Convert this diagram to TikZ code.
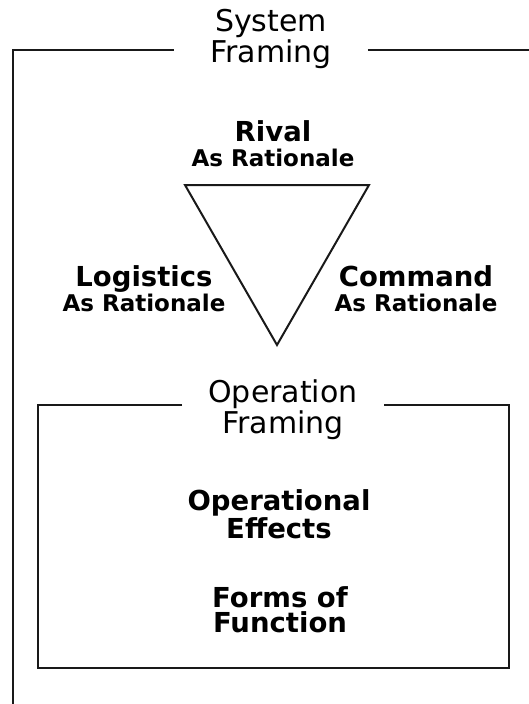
\documentclass[tikz,border=0pt]{standalone}
\usepackage{fontspec}
\setmainfont{DejaVu Sans}
\begin{document}
\begin{tikzpicture}[x=1pt,y=-1pt,
  frameline/.style={line width=2pt, draw=black!90},
  frametitle/.style={font=\fontsize{30}{24.5}\selectfont, align=center, anchor=base, inner ysep=0pt, inner xsep=36pt},
  boldlabel/.style={font=\fontsize{27.5}{25}\selectfont\bfseries, align=center, anchor=base, inner sep=0pt}]
\useasboundingbox (0,0) rectangle (529,704);
% outer frame
\coordinate (oTL) at (13,50);
\coordinate (oBL) at (13,704);
\coordinate (oTR) at (529,50);
\node[frametitle] (sys) at (271,62) {System\\Framing};
\draw[frameline] (oBL) -- (oTL) -- (sys.west |- oTL);
\draw[frameline] (sys.east |- oTR) -- (oTR);
% triangle
\coordinate (t1) at (185,185);
\coordinate (t2) at (369,185);
\coordinate (t3) at (277,345);
\draw[frameline, line join=miter] (t1) -- (t2) -- (t3) -- cycle;
\node[boldlabel] (rival) at (273,166) {Rival\\{\fontsize{23}{25}\selectfont\bfseries As Rationale}};
\node[boldlabel] (logi) at (144,311) {Logistics\\{\fontsize{23}{25}\selectfont\bfseries As Rationale}};
\node[boldlabel] (comm) at (416,311) {Command\\{\fontsize{23}{25}\selectfont\bfseries As Rationale}};
% inner frame
\coordinate (iTL) at (38,405);
\coordinate (iTR) at (509,405);
\coordinate (iBR) at (509,668);
\coordinate (iBL) at (38,668);
\node[frametitle, inner xsep=26pt] (opf) at (283,433) {Operation\\Framing};
\draw[frameline] (opf.west |- iTL) -- (iTL) -- (iBL) -- (iBR) -- (iTR) -- (opf.east |- iTR);
\node[boldlabel] (opeff) at (279,538) {Operational\\Effects};
\node[boldlabel] (forms) at (280,632) {Forms of\\Function};
\end{tikzpicture}
\end{document}
